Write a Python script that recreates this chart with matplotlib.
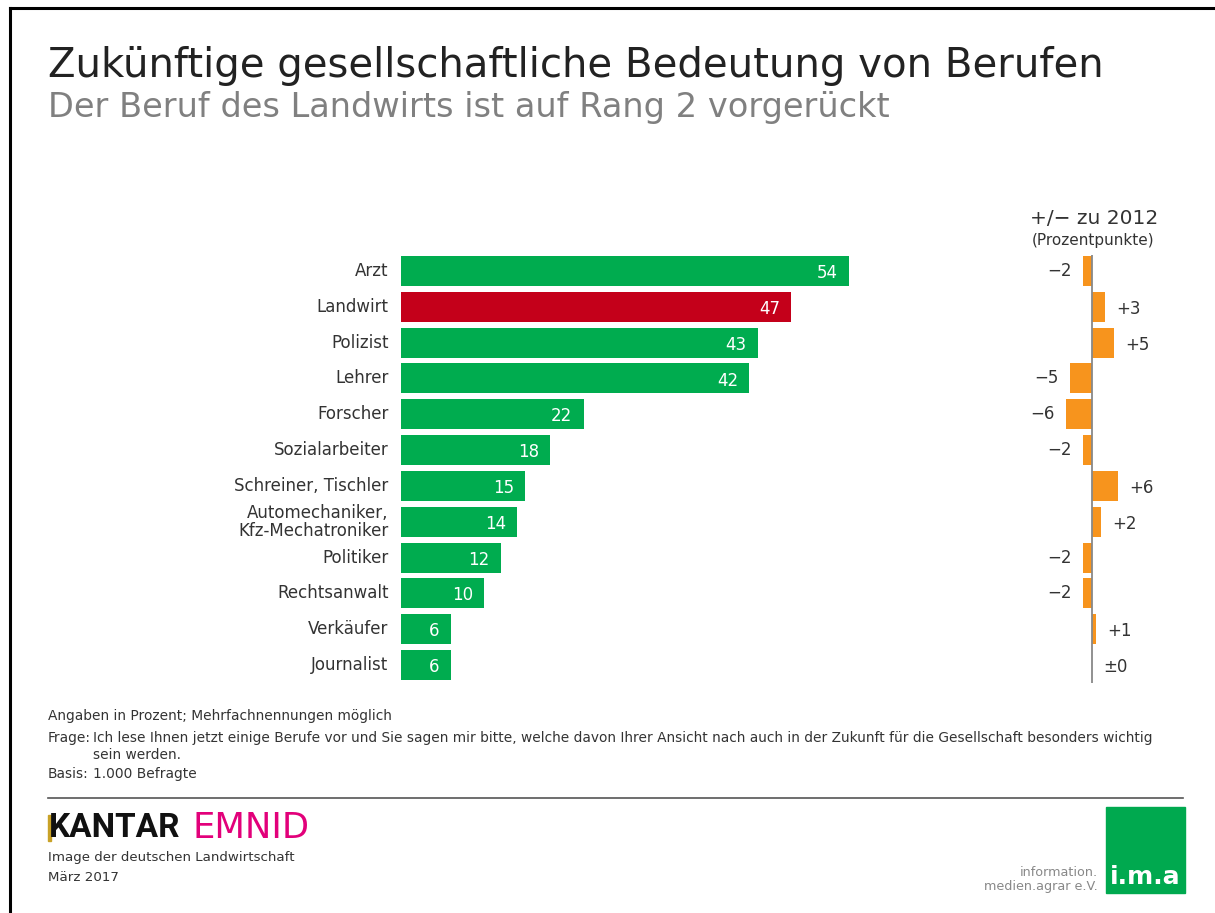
import matplotlib
matplotlib.use("Agg")
import matplotlib.pyplot as plt
from matplotlib.patches import Rectangle
from matplotlib.lines import Line2D

categories = ["Arzt", "Landwirt", "Polizist", "Lehrer", "Forscher", "Sozialarbeiter",
              "Schreiner, Tischler", "Automechaniker,\nKfz-Mechatroniker", "Politiker",
              "Rechtsanwalt", "Verkäufer", "Journalist"]
values = [54, 47, 43, 42, 22, 18, 15, 14, 12, 10, 6, 6]
deltas = [-2, 3, 5, -5, -6, -2, 6, 2, -2, -2, 1, 0]
delta_labels = ["\u22122", "+3", "+5", "\u22125", "\u22126", "\u22122", "+6", "+2",
                "\u22122", "\u22122", "+1", "\u00b10"]
highlight = "Landwirt"

GREEN = "#00ac4f"
RED = "#c4001a"
ORANGE = "#f7941d"
DARK = "#333333"

W, H = 1215, 913
fig = plt.figure(figsize=(W / 100, H / 100), dpi=100)
plt.rcParams['font.family'] = ['DejaVu Sans']

def fx(px):
    return px / W

def fy(py):
    return 1 - py / H

# frame lines (left and top)
fig.add_artist(Line2D([fx(9.5), fx(9.5)], [fy(8), fy(913)], color="black", lw=2.2,
                      transform=fig.transFigure))
fig.add_artist(Line2D([fx(9.5), fx(1215)], [fy(8), fy(8)], color="black", lw=2.2,
                      transform=fig.transFigure))

# titles
fig.text(fx(48), fy(66), "Zukünftige gesellschaftliche Bedeutung von Berufen",
         fontsize=29, color="#222222", va="center", ha="left")
fig.text(fx(48), fy(107), "Der Beruf des Landwirts ist auf Rang 2 vorgerückt",
         fontsize=24.2, color="#808080", va="center", ha="left")

# main bar axes
row_top, row_bot = 271, 665
n = len(categories)
step = (row_bot - row_top) / (n - 1)
y_top = row_top - step / 2
y_bot = row_bot + step / 2
px_per_unit = (849 - 401) / 54
xmax = 60
ax = fig.add_axes([fx(401), fy(y_bot), (xmax * px_per_unit) / W, (y_bot - y_top) / H])
ypos = list(range(n))
colors = [RED if c == highlight else GREEN for c in categories]
ax.barh(ypos, values, height=0.84, color=colors)
ax.set_xlim(0, xmax)
ax.set_ylim(n - 0.5, -0.5)
ax.axis("off")
for i, (c, v) in enumerate(zip(categories, values)):
    ax.annotate(str(v), xy=(v, i), xytext=(-8, -1.5), textcoords="offset points",
                ha="right", va="center", color="white", fontsize=12)
    ax.annotate(c, xy=(0, i), xytext=(-9, 0), textcoords="offset points",
                ha="right", va="center", color=DARK, fontsize=12,
                multialignment="right", linespacing=1.0)

# delta axes
dpx = 4.4
dmax = 8
ax2 = fig.add_axes([fx(1092 - dmax * dpx), fy(y_bot), (2 * dmax * dpx) / W, (y_bot - y_top) / H])
ax2.barh(ypos, deltas, height=0.84, color=ORANGE)
ax2.set_xlim(-dmax, dmax)
ax2.set_ylim(n - 0.5, -0.5)
ax2.axis("off")
ax2.plot([0, 0], [-0.45, n - 0.3], color="#888888", lw=1.3, solid_capstyle="butt")
for i, (d, lab) in enumerate(zip(deltas, delta_labels)):
    if d < 0:
        ax2.annotate(lab, xy=(d, i), xytext=(-8, 0), textcoords="offset points",
                     ha="right", va="center", color=DARK, fontsize=12)
    else:
        ax2.annotate(lab, xy=(d, i), xytext=(8, -1.5), textcoords="offset points",
                     ha="left", va="center", color=DARK, fontsize=12)

fig.text(fx(1094), fy(218), "+/\u2212 zu 2012", fontsize=14.5, color=DARK, ha="center", va="center")
fig.text(fx(1093), fy(240), "(Prozentpunkte)", fontsize=11, color=DARK, ha="center", va="center")

# footnotes
fnt = dict(fontsize=9.9, color=DARK, va="center")
fig.text(fx(48), fy(716), "Angaben in Prozent; Mehrfachnennungen möglich", **fnt)
fig.text(fx(48), fy(738), "Frage:", **fnt)
fig.text(fx(93), fy(738), "Ich lese Ihnen jetzt einige Berufe vor und Sie sagen mir bitte, welche davon Ihrer Ansicht nach auch in der Zukunft für die Gesellschaft besonders wichtig",
         **fnt)
fig.text(fx(93), fy(755), "sein werden.", **fnt)
fig.text(fx(48), fy(774), "Basis:", **fnt)
fig.text(fx(93), fy(774), "1.000 Befragte", **fnt)

fig.add_artist(Line2D([fx(48), fx(1183)], [fy(798), fy(798)], color="#555555", lw=1.2,
                      transform=fig.transFigure))

# Kantar Emnid logo
fig.add_artist(Rectangle((fx(48), fy(841)), fx(3), 26 / H, color="#c9a227",
                         transform=fig.transFigure))
fig.text(fx(49), fy(828), "KANTAR", fontsize=24, fontweight="bold", color="#111111",
         va="center", ha="left", family=["Roboto", "DejaVu Sans"])
fig.text(fx(192), fy(828), "EMNID", fontsize=25.5, color="#e2007a", va="center", ha="left")
fig.text(fx(48), fy(857), "Image der deutschen Landwirtschaft", fontsize=9.6, color=DARK, va="center")
fig.text(fx(48), fy(877), "März 2017", fontsize=9.6, color=DARK, va="center")

# i.m.a logo
fig.add_artist(Rectangle((fx(1106), fy(893)), fx(79), 86 / H, color="#00a94f",
                         transform=fig.transFigure))
fig.text(fx(1145), fy(877), "i.m.a", fontsize=18, color="white", ha="center", va="center",
         fontweight="bold")
fig.text(fx(1098), fy(872), "information.", fontsize=9.2, color="#888888", ha="right", va="center")
fig.text(fx(1098), fy(886), "medien.agrar e.V.", fontsize=9.2, color="#888888", ha="right", va="center")

fig.savefig("out.png", dpi=100, facecolor="white")
